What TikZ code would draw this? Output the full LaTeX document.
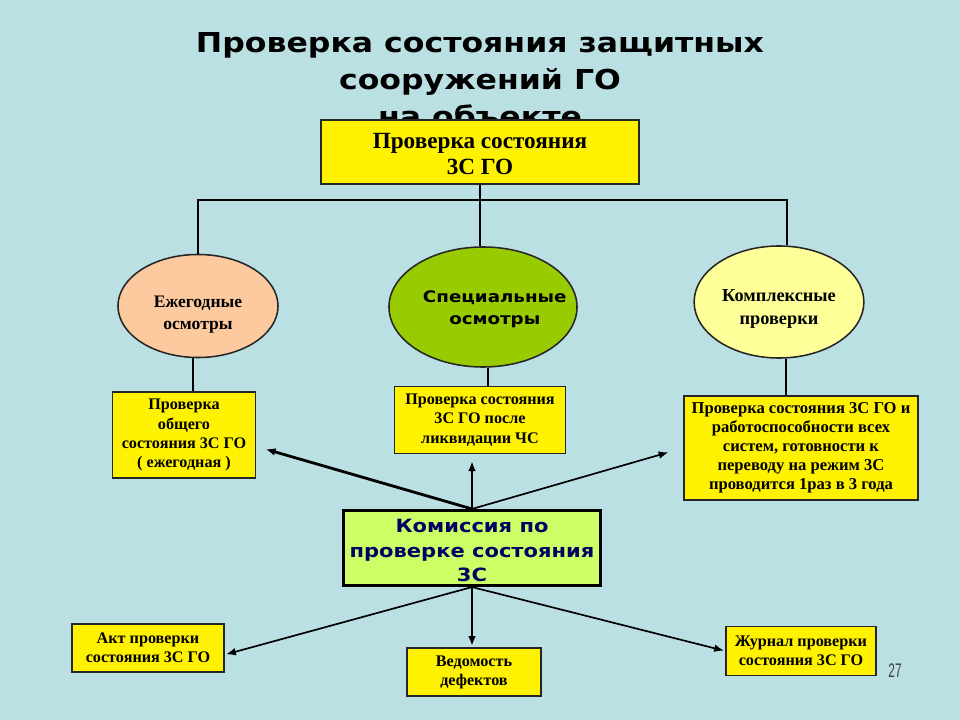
\documentclass[tikz,border=0pt]{standalone}
\usepackage{fontspec}
\setmainfont{Liberation Serif}
\newfontfamily\headfont[FakeStretch=1.15]{DejaVu Sans}
\newfontfamily\numfont[FakeStretch=0.6]{Liberation Sans}
\usetikzlibrary{shapes.geometric,arrows.meta}
\definecolor{slidebg}{RGB}{187,224,227}
\definecolor{peach}{RGB}{252,202,158}
\definecolor{olive}{RGB}{153,204,0}
\definecolor{paleyel}{RGB}{255,255,153}
\definecolor{limegr}{RGB}{204,255,102}
\definecolor{navy}{RGB}{0,0,96}
% two centred lines, drawn a little lower than the node centre
\newcommand{\lowtext}[2]{\raisebox{#1}[\height][\depth]{\begin{tabular}{@{}c@{}}#2\end{tabular}}}
\begin{document}
\begin{tikzpicture}[x=0.025cm,y=-0.025cm,
    box/.style={draw=black!85,fill=yellow,line width=0.9pt,align=center,inner sep=1pt,
      font=\bfseries\fontsize{11.5}{13.6}\selectfont},
    oval/.style={ellipse,draw=black!85,line width=1.1pt,inner sep=0pt,align=center,text width=3cm},
    thin/.style={-{Latex[length=7pt,width=5.5pt]},line width=1.2pt},
    thick/.style={-{Latex[length=7pt,width=5.5pt]},line width=2pt}]
  \fill[slidebg] (0,0) rectangle (960,720);
  \useasboundingbox (0,0) rectangle (960,720);
  % title, its last line is hidden under the top box
  \node[anchor=north,align=center,inner sep=0pt,
    font=\headfont\bfseries\fontsize{19.5}{26.4}\selectfont] (title) at (480,32)
    {Проверка состояния защитных\\сооружений ГО\\на объекте};
  \node[box,minimum width=7.95cm,minimum height=1.6cm,
    font=\bfseries\fontsize{16.5}{19}\selectfont] (zs) at (480,152)
    {\lowtext{-3pt}{Проверка состояния\\3С ГО}};
  % three kinds of checks
  \node[oval,fill=peach,minimum width=4cm,minimum height=2.575cm,text width=2.4cm,
    font=\bfseries\fontsize{12.5}{15.6}\selectfont] (annual) at (198,306)
    {\lowtext{-5.5pt}{Ежегодные\\осмотры}};
  \node[oval,fill=olive,minimum width=4.7cm,minimum height=3cm,
    font=\headfont\bfseries\fontsize{11.3}{15.6}\selectfont] (special) at (483,307)
    {\lowtext{-1.5pt}{Специальные\\осмотры}};
  \node[oval,fill=paleyel,minimum width=4.225cm,minimum height=2.8cm,
    font=\bfseries\fontsize{13}{16}\selectfont] (complex) at (779,302)
    {\lowtext{-4.5pt}{Комплексные\\проверки}};
  \node[box,minimum width=3.575cm,minimum height=2.15cm] (general) at (184,435)
    {Проверка\\общего\\состояния 3С ГО\\( ежегодная )};
  \node[box,minimum width=4.275cm,minimum height=1.675cm] (afterchs) at (480,420)
    {Проверка состояния\\3С ГО после\\ликвидации ЧС};
  \node[box,minimum width=5.85cm,minimum height=2.6cm,inner xsep=0pt,
    font=\bfseries\fontsize{11.8}{13.6}\selectfont] (triennial) at (801,448)
    {Проверка состояния 3С ГО и\\работоспособности всех\\систем, готовности к\\переводу на режим 3С\\проводится 1раз в 3 года};
  % commission and its documents
  \node[draw=black,fill=limegr,line width=2.2pt,align=center,minimum width=6.425cm,minimum height=1.875cm,
    inner sep=0pt,text=navy,font=\headfont\bfseries\fontsize{13}{17.5}\selectfont] (comm) at (472,548)
    {\lowtext{-3pt}{Комиссия по\\проверке состояния\\3С}};
  \node[box,minimum width=3.8cm,minimum height=1.2cm] (act) at (148,648) {Акт проверки\\состояния 3С ГО};
  \node[box,minimum width=3.35cm,minimum height=1.2cm] (defects) at (474,672) {Ведомость\\дефектов};
  \node[box,minimum width=3.75cm,minimum height=1.225cm] (journal) at (801,651) {Журнал проверки\\состояния 3С ГО};
  \node[text=black!75,font=\numfont\fontsize{14}{14}\selectfont] (page) at (895,671) {27};
  \coordinate (bus) at (480,200);
  \begin{scope}[line width=1.5pt]
    \draw (zs.south) -- (zs.south |- special.north);
    \draw (annual.north) |- (bus) -| (complex.82);
    \draw (annual.-95) -- (annual.-95 |- general.north);
    \draw (special.-85) -- (special.-85 |- afterchs.north);
    \draw (complex.-83) -- (complex.-83 |- triennial.north);
  \end{scope}
  \begin{scope}[shorten >=1pt]
    \draw[thick,shorten >=7pt] (comm.north) -- (general.-9);
    \draw[thick,shorten >=5pt] (comm.north) -- (comm.north |- afterchs.south);
    \draw[thin,shorten >=11pt] (comm.north) -- (triennial.west);
    \draw[thin] (comm.south) -- (act.-5);
    \draw[thick] (comm.south) -- (comm.south |- defects.north);
    \draw[thin] (comm.south) -- (journal.west);
  \end{scope}
\end{tikzpicture}
\end{document}
